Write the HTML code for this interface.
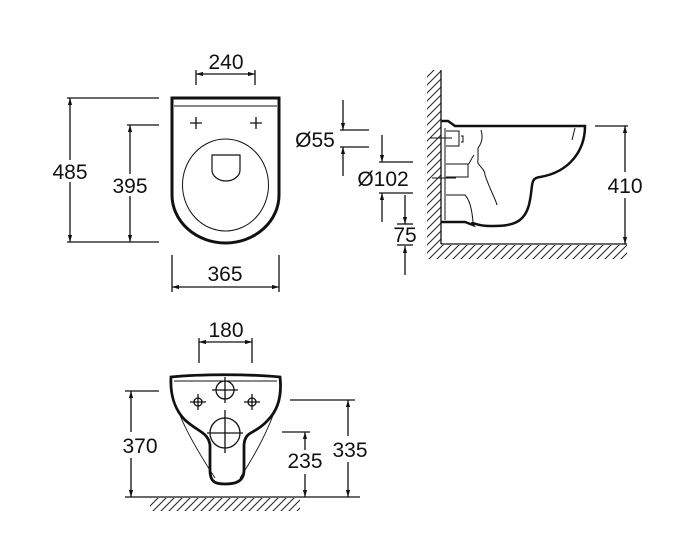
<!DOCTYPE html>
<html><head><meta charset="utf-8"><style>html,body{margin:0;padding:0;background:#fff}svg{display:block}text{font-family:"Liberation Sans",sans-serif;font-size:21px;fill:#111}</style></head>
<body>
<svg width="690" height="550" viewBox="0 0 690 550" xmlns="http://www.w3.org/2000/svg">
<defs>
<marker id="a" viewBox="0 0 10 10" refX="10" refY="5" markerWidth="7" markerHeight="10" orient="auto-start-reverse" markerUnits="userSpaceOnUse"><path d="M0,2 L10,5 L0,8 z" fill="#111"/></marker>
<pattern id="h" width="8" height="8" patternUnits="userSpaceOnUse"><path d="M-2,10 L10,-2 M-2,2 L2,-2 M6,10 L10,6" stroke="#222" stroke-width="1"/></pattern>
</defs>
<g stroke="#111" fill="none" stroke-width="1.3">
<!-- TOP VIEW -->
<path d="M172,98 H279 V195 A53.5,48 0 0 1 172,195 Z" stroke-width="3"/>
<line x1="174" y1="106" x2="277" y2="106" stroke-width="1"/>
<ellipse cx="225.5" cy="185" rx="43" ry="46" stroke-width="1"/>
<path d="M212,155 H240 V170 A14,11 0 0 1 212,170 Z" stroke-width="1.2"/>
<path d="M190,123 H202 M196,117 V129 M250,123 H262 M256,117 V129"/>
<!-- dims top -->
<line x1="196" y1="70" x2="196" y2="85"/><line x1="255" y1="70" x2="255" y2="85"/>
<line x1="196" y1="74" x2="255" y2="74" marker-start="url(#a)" marker-end="url(#a)"/>
<line x1="67" y1="98" x2="159" y2="98"/><line x1="67" y1="242" x2="159" y2="242"/>
<line x1="70" y1="98" x2="70" y2="160" marker-start="url(#a)"/><line x1="70" y1="182" x2="70" y2="242" marker-end="url(#a)"/>
<line x1="127" y1="125" x2="159" y2="125"/>
<line x1="130" y1="125" x2="130" y2="174" marker-start="url(#a)"/><line x1="130" y1="196" x2="130" y2="242" marker-end="url(#a)"/>
<line x1="172" y1="255" x2="172" y2="292"/><line x1="279" y1="255" x2="279" y2="292"/>
<line x1="172" y1="287" x2="279" y2="287" marker-start="url(#a)" marker-end="url(#a)"/>
<!-- diam dims -->
<line x1="343" y1="100" x2="343" y2="130" marker-end="url(#a)"/>
<line x1="340" y1="130" x2="369" y2="130"/><line x1="340" y1="147" x2="369" y2="147"/>
<line x1="343" y1="176" x2="343" y2="147" marker-end="url(#a)"/>
<line x1="382" y1="135" x2="382" y2="162" marker-end="url(#a)"/>
<line x1="379" y1="162" x2="413" y2="162"/><line x1="379" y1="193" x2="413" y2="193"/>
<line x1="382" y1="222" x2="382" y2="193" marker-end="url(#a)"/>
<line x1="405" y1="195" x2="405" y2="224" marker-end="url(#a)"/>
<line x1="397" y1="224" x2="413" y2="224"/><line x1="397" y1="245" x2="413" y2="245"/>
<line x1="405" y1="275" x2="405" y2="246" marker-end="url(#a)"/>
<!-- SIDE VIEW -->
<rect x="427" y="70" width="14" height="175" fill="url(#h)" stroke="none"/>
<rect x="427" y="245" width="200" height="14" fill="url(#h)" stroke="none"/>
<line x1="441" y1="70" x2="441" y2="244"/><line x1="441" y1="244" x2="627" y2="244"/>
<path d="M441,121 H448 L455,126 H585 C585,150 570,172 540,177 C530,178 533,185 530,200 C526,225 510,226 490,226 C475,226 470,220 473,225 L465,222 H441" stroke-width="2.5"/>
<path d="M445,128 V220 M446,131 H459 V146 H446 M446,164 H468 V177 H446 M446,195 H465 C470,200 472,210 473,222" stroke-width="1"/>
<path d="M461,136 H463 V142 H461 M481,130 C484,140 480,145 478,148 V160 C476,165 485,168 485,175 C490,190 496,200 497,205 M474,155 C470,160 470,164 468,164 M575,128 L572,140" stroke-width="1"/>
<line x1="430" y1="138" x2="452" y2="138" stroke-width="1"/><line x1="432" y1="178" x2="456" y2="178" stroke-width="1"/>
<line x1="595" y1="126" x2="628" y2="126"/>
<line x1="625" y1="126" x2="625" y2="172" marker-start="url(#a)"/><line x1="625" y1="198" x2="625" y2="244" marker-end="url(#a)"/>
<!-- BOTTOM VIEW -->
<line x1="199" y1="338" x2="199" y2="363"/><line x1="252" y1="338" x2="252" y2="363"/>
<line x1="199" y1="342" x2="252" y2="342" marker-start="url(#a)" marker-end="url(#a)"/>
<path d="M178,410 C185,430 200,455 215,478 M275,410 C268,430 255,455 240,478" stroke-width="0.9"/>
<path d="M171,377 C200,374 250,374 280,377 C282,395 278,410 268,420 C255,435 245,430 244,445 V470 C244,482 235,484 225,484 C215,484 210,482 210,470 V445 C208,432 198,432 185,420 C175,410 170,395 171,377 Z" stroke-width="2.8"/>
<line x1="174" y1="381" x2="277" y2="381" stroke-width="0.9"/>
<circle cx="225" cy="390" r="9"/><path d="M212,390 H238 M225,377 V403"/>
<circle cx="198" cy="402" r="4"/><path d="M190,402 H206 M198,394 V410"/>
<circle cx="252" cy="402" r="4"/><path d="M244,402 H260 M252,394 V410"/>
<circle cx="225" cy="433" r="15"/><path d="M207,433 H243 M225,410 V453"/>
<line x1="125" y1="391" x2="159" y2="391"/>
<line x1="131" y1="391" x2="131" y2="432" marker-start="url(#a)"/><line x1="131" y1="458" x2="131" y2="497" marker-end="url(#a)"/>
<line x1="290" y1="400" x2="355" y2="400"/>
<line x1="348" y1="400" x2="348" y2="436" marker-start="url(#a)"/><line x1="348" y1="462" x2="348" y2="497" marker-end="url(#a)"/>
<line x1="282" y1="432" x2="310" y2="432"/>
<line x1="305" y1="432" x2="305" y2="450" marker-start="url(#a)"/><line x1="305" y1="474" x2="305" y2="497" marker-end="url(#a)"/>
<line x1="125" y1="497" x2="360" y2="497"/>
<rect x="150" y="498" width="150" height="13" fill="url(#h)" stroke="none"/>
</g>
<g text-anchor="middle">
<text x="226" y="69">240</text>
<text x="70" y="179">485</text>
<text x="130" y="193">395</text>
<text x="225" y="281">365</text>
<text x="315" y="147">Ø55</text>
<text x="383" y="186">Ø102</text>
<text x="405" y="242">75</text>
<text x="625" y="193">410</text>
<text x="226" y="337">180</text>
<text x="140" y="453">370</text>
<text x="350" y="457">335</text>
<text x="305" y="468">235</text>
</g>
</svg>
</body></html>
